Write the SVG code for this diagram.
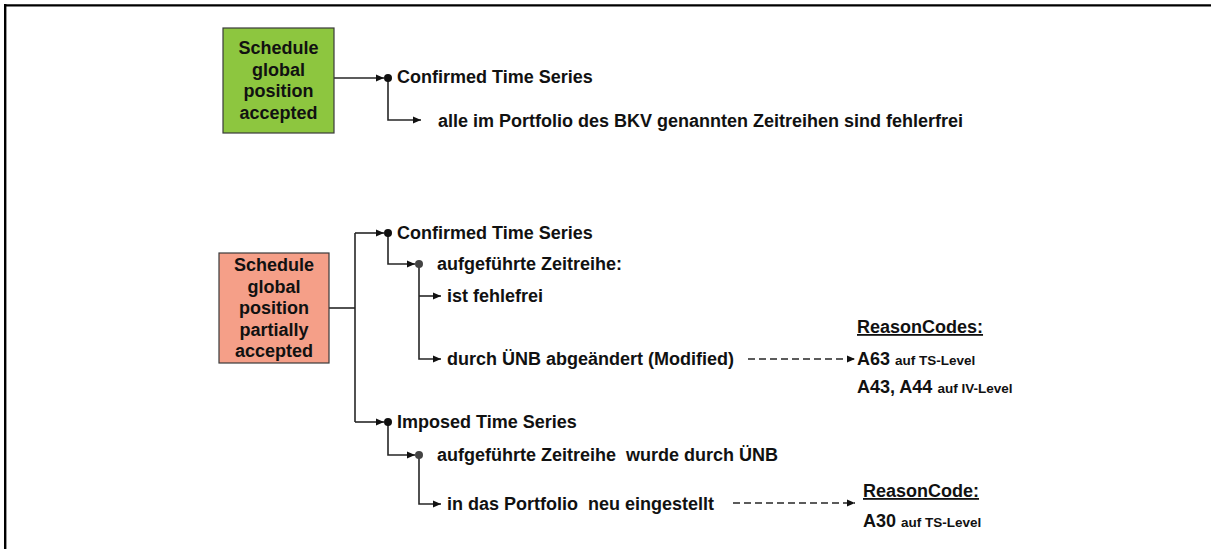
<svg xmlns="http://www.w3.org/2000/svg" width="1211" height="549" viewBox="0 0 1211 549">
<style>
text{font-family:"Liberation Sans",Arial,sans-serif;font-weight:bold;fill:#111}
.t{font-size:18px}
.s{font-size:13.5px}
.pre{white-space:pre}
.bx{stroke:#3a3a3a;stroke-width:1.2}
.ln{fill:none;stroke:#262626;stroke-width:1.6}
.ds{fill:none;stroke:#262626;stroke-width:1.4;stroke-dasharray:7 4}
.bt{font-size:18px;text-anchor:middle}
</style>
<defs>
<marker id="ah" markerUnits="userSpaceOnUse" markerWidth="9" markerHeight="8" refX="8" refY="4" orient="auto">
<path d="M0,0.5 L8,4 L0,7.5 Z" fill="#111"/>
</marker>
</defs>
<g id="frame">
<line x1="4" y1="5.3" x2="1211" y2="5.3" stroke="#000" stroke-width="2.2"/>
<line x1="5.2" y1="4" x2="5.2" y2="549" stroke="#000" stroke-width="2.4"/>
</g>
<g id="connectors">
<path class="ln" d="M334,78 H384" marker-end="url(#ah)"/>
<path class="ln" d="M388,78 V120 H421" marker-end="url(#ah)"/>
<path class="ln" d="M329,308 H355"/>
<path class="ln" d="M355,233 V422"/>
<path class="ln" d="M355,233 H384" marker-end="url(#ah)"/>
<path class="ln" d="M355,422 H384" marker-end="url(#ah)"/>
<path class="ln" d="M388,233 V264 H415" marker-end="url(#ah)"/>
<path class="ln" d="M419,264 V359 H441" marker-end="url(#ah)"/>
<path class="ln" d="M419,296 H441" marker-end="url(#ah)"/>
<path class="ds" d="M748,359 H855" marker-end="url(#ah)"/>
<path class="ln" d="M388,422 V455 H415" marker-end="url(#ah)"/>
<path class="ln" d="M419,455 V504 H441" marker-end="url(#ah)"/>
<path class="ds" d="M733,503 H855" marker-end="url(#ah)"/>
<circle cx="388" cy="78" r="4" fill="#111"/>
<circle cx="388" cy="233" r="4" fill="#111"/>
<circle cx="388" cy="422" r="4" fill="#111"/>
<circle cx="419" cy="264" r="4" fill="#444"/>
<circle cx="419" cy="455" r="4" fill="#444"/>
</g>
<g id="box-accepted">
<rect class="bx" x="223" y="28" width="111" height="105" fill="#8DC63F"/>
<text class="bt" x="278.5" y="54">Schedule</text>
<text class="bt" x="278.5" y="75.5">global</text>
<text class="bt" x="278.5" y="97">position</text>
<text class="bt" x="278.5" y="118.5">accepted</text>
</g>
<g id="box-partial">
<rect class="bx" x="219" y="253" width="110" height="110" fill="#F59F88"/>
<text class="bt" x="274" y="271">Schedule</text>
<text class="bt" x="274" y="292.5">global</text>
<text class="bt" x="274" y="314">position</text>
<text class="bt" x="274" y="335.5">partially</text>
<text class="bt" x="274" y="357">accepted</text>
</g>
<g id="n-confirmed-1"><text class="t" x="397" y="83">Confirmed Time Series</text></g>
<g id="n-alle"><text class="t" x="438" y="127">alle im Portfolio des BKV genannten Zeitreihen sind fehlerfrei</text></g>
<g id="n-confirmed-2"><text class="t" x="397" y="239">Confirmed Time Series</text></g>
<g id="n-aufg-1"><text class="t" x="437" y="270">aufgeführte Zeitreihe:</text></g>
<g id="n-ist"><text class="t" x="447" y="302">ist fehlefrei</text></g>
<g id="n-durch"><text class="t" x="447" y="365">durch ÜNB abgeändert (Modified)</text></g>
<g id="n-reasoncodes">
<text class="t" x="857" y="333" text-decoration="underline">ReasonCodes:</text>
<text class="t" x="857" y="365">A63 <tspan class="s">auf TS-Level</tspan></text>
<text class="t" x="857" y="393">A43, A44 <tspan class="s">auf IV-Level</tspan></text>
</g>
<g id="n-imposed"><text class="t" x="397" y="428">Imposed Time Series</text></g>
<g id="n-aufg-2"><text class="t pre" x="437" y="461">aufgeführte Zeitreihe  wurde durch ÜNB</text></g>
<g id="n-in"><text class="t pre" x="447" y="510">in das Portfolio  neu eingestellt</text></g>
<g id="n-reasoncode">
<text class="t" x="863" y="497" text-decoration="underline">ReasonCode:</text>
<text class="t" x="863" y="527">A30 <tspan class="s">auf TS-Level</tspan></text>
</g>
</svg>
